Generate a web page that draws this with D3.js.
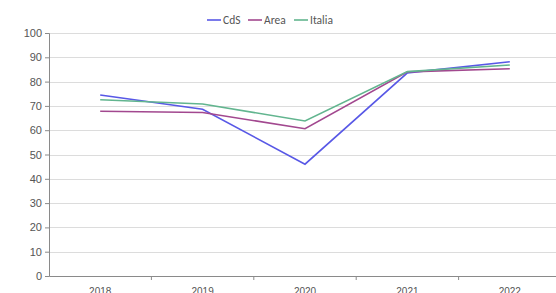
<!DOCTYPE html>
<html>
<head>
<meta charset="utf-8">
<script src="https://cdn.jsdelivr.net/npm/d3@7"></script>
<style>
  body { margin: 0; background: #fff; }
  svg { display: block; font-family: Calibri, Carlito, "Open Sans", sans-serif; }
  .axis text { fill: #555; }
</style>
</head>
<body>
<div id="chart"></div>
<script>
// Data
const years = ['2018', '2019', '2020', '2021', '2022'];
const cds = [74.5, 68.6, 46, 83.6, 88.2];
const area = [67.8, 67.3, 60.6, 84, 85.3];
const italia = [72.5, 70.8, 63.8, 84.1, 86.8];
const yTicks = [0, 10, 20, 30, 40, 50, 60, 70, 80, 90, 100];

const series = [
  {name: 'CdS', values: cds, color: '#5858e6'},
  {name: 'Area', values: area, color: '#a2488f'},
  {name: 'Italia', values: italia, color: '#62b58f'}
];

const width = 556, height = 293;
const margin = {top: 33, right: -5, bottom: 17, left: 49};
const chartWidth = width - margin.left - margin.right;
const chartHeight = height - margin.top - margin.bottom;

const svg = d3.select('#chart').append('svg')
    .attr('width', width)
    .attr('height', height);

const chart = svg.append('g')
    .attr('transform', `translate(${margin.left}, ${margin.top})`);

const xScale = d3.scaleBand()
    .domain(years)
    .range([0, chartWidth]);

const yScale = d3.scaleLinear()
    .domain([0, 100])
    .range([chartHeight, 0]);

// Gridlines
chart.append('g')
    .selectAll('line')
    .data(yTicks.filter(d => d > 0))
    .join('line')
    .attr('x1', 0)
    .attr('x2', chartWidth)
    .attr('y1', d => Math.round(yScale(d)) + 0.5)
    .attr('y2', d => Math.round(yScale(d)) + 0.5)
    .attr('stroke', '#dcdcdc')
    .attr('stroke-width', 1.2);

// Y axis
const yAxisGroup = chart.append('g')
    .attr('class', 'axis')
    .call(d3.axisLeft(yScale).tickValues(yTicks).tickSize(4).tickPadding(3));
yAxisGroup.selectAll('text').attr('font-size', 11);
yAxisGroup.selectAll('line, path').attr('stroke', '#8a8a8a');

// X axis, ticks at band boundaries
const xAxisGroup = chart.append('g')
    .attr('class', 'axis')
    .attr('transform', `translate(0, ${chartHeight})`)
    .call(d3.axisBottom(xScale).tickSize(0).tickPadding(12));
xAxisGroup.selectAll('text').attr('font-size', 10);
xAxisGroup.select('.domain').attr('stroke', '#8a8a8a');
xAxisGroup.selectAll('.boundary')
    .data(years.slice(1))
    .join('line')
    .attr('class', 'boundary')
    .attr('x1', d => xScale(d))
    .attr('x2', d => xScale(d))
    .attr('y1', 0)
    .attr('y2', 4)
    .attr('stroke', '#8a8a8a');

// Lines
const lineGenerator = d3.line()
    .x((d, i) => xScale(years[i]) + xScale.bandwidth() / 2)
    .y(d => yScale(d));

chart.selectAll('.line')
    .data(series)
    .join('path')
    .attr('class', 'line')
    .attr('fill', 'none')
    .attr('stroke', d => d.color)
    .attr('stroke-width', 1.6)
    .attr('d', d => lineGenerator(d.values));

// Legend
const legendX = [207, 248, 294];
const legend = svg.append('g');
series.forEach((s, i) => {
  legend.append('line')
      .attr('x1', legendX[i])
      .attr('x2', legendX[i] + 14)
      .attr('y1', 20)
      .attr('y2', 20)
      .attr('stroke', s.color)
      .attr('stroke-width', 1.6);
  legend.append('text')
      .attr('x', legendX[i] + 16)
      .attr('y', 24)
      .attr('font-size', 11.5)
      .attr('fill', '#555')
      .text(s.name);
});
</script>
</body>
</html>
